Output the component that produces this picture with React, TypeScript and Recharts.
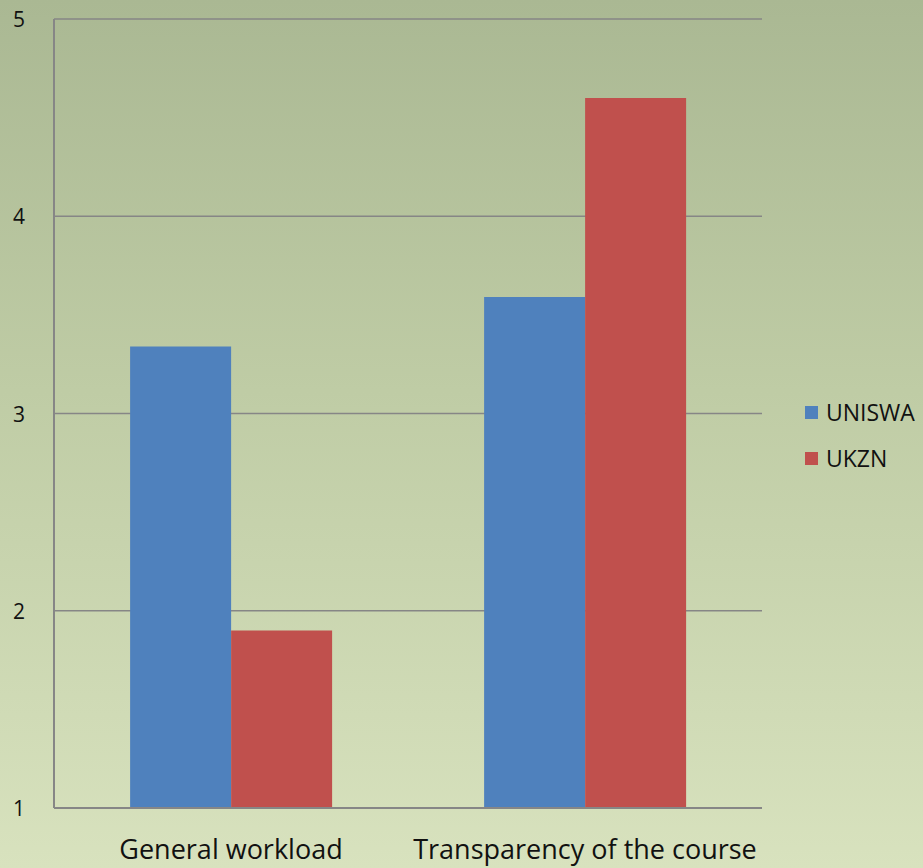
import React from "react";
import { BarChart, Bar, XAxis, YAxis, CartesianGrid } from "recharts";

const categories = ["General workload", "Transparency of the course"];
const uniswa = [3.34, 3.59];
const ukzn = [1.9, 4.6];
const yTicks = [1, 2, 3, 4, 5];
const seriesNames = ["UNISWA", "UKZN"];
const seriesColors = ["#4F81BD", "#C0504D"];

const data = categories.map((c, i) => ({ name: c, UNISWA: uniswa[i], UKZN: ukzn[i] }));

const FONT = "'Open Sans', sans-serif";

const YTick = (props: any) => {
  const { y, payload } = props;
  return (
    <text x={13} y={y} dy={8} fontSize={21} fontFamily={FONT} fill="#111" textAnchor="start">
      {payload.value}
    </text>
  );
};

const XTick = (props: any) => {
  const { x, y, payload } = props;
  return (
    <text x={x} y={y} dy={43} fontSize={27} fontFamily={FONT} fill="#111" textAnchor="middle">
      {payload.value}
    </text>
  );
};

export default function App() {
  return (
    <div
      style={{
        position: "absolute",
        left: 0,
        top: 0,
        width: 923,
        height: 868,
        background: "linear-gradient(to bottom, #aab893 0%, #bfcca5 45%, #d8e2be 100%)",
        overflow: "hidden",
      }}
    >
      <BarChart
        width={923}
        height={868}
        data={data}
        margin={{ top: 19, right: 161, left: 0, bottom: 0 }}
        barCategoryGap="21.5%"
        barGap={0}
      >
        <CartesianGrid horizontal vertical={false} stroke="#868686" strokeWidth={1.5} />
        <YAxis
          domain={[1, 5]}
          ticks={yTicks}
          width={54}
          axisLine={{ stroke: "#868686", strokeWidth: 2 }}
          tickLine={false}
          tick={<YTick />}
          interval={0}
        />
        <XAxis
          dataKey="name"
          height={60}
          axisLine={{ stroke: "#868686", strokeWidth: 2 }}
          tickLine={false}
          tick={<XTick />}
          interval={0}
        />
        <Bar dataKey="UNISWA" fill={seriesColors[0]} isAnimationActive={false} />
        <Bar dataKey="UKZN" fill={seriesColors[1]} isAnimationActive={false} />
      </BarChart>
      <div
        style={{
          position: "absolute",
          left: 805,
          top: 389,
          fontFamily: FONT,
          fontSize: 23,
          color: "#111",
        }}
      >
        {seriesNames.map((n, i) => (
          <div key={n} style={{ display: "flex", alignItems: "center", height: 46 }}>
            <span
              style={{
                width: 13,
                height: 13,
                background: seriesColors[i],
                display: "inline-block",
                marginRight: 8,
              }}
            />
            <span>{n}</span>
          </div>
        ))}
      </div>
    </div>
  );
}
